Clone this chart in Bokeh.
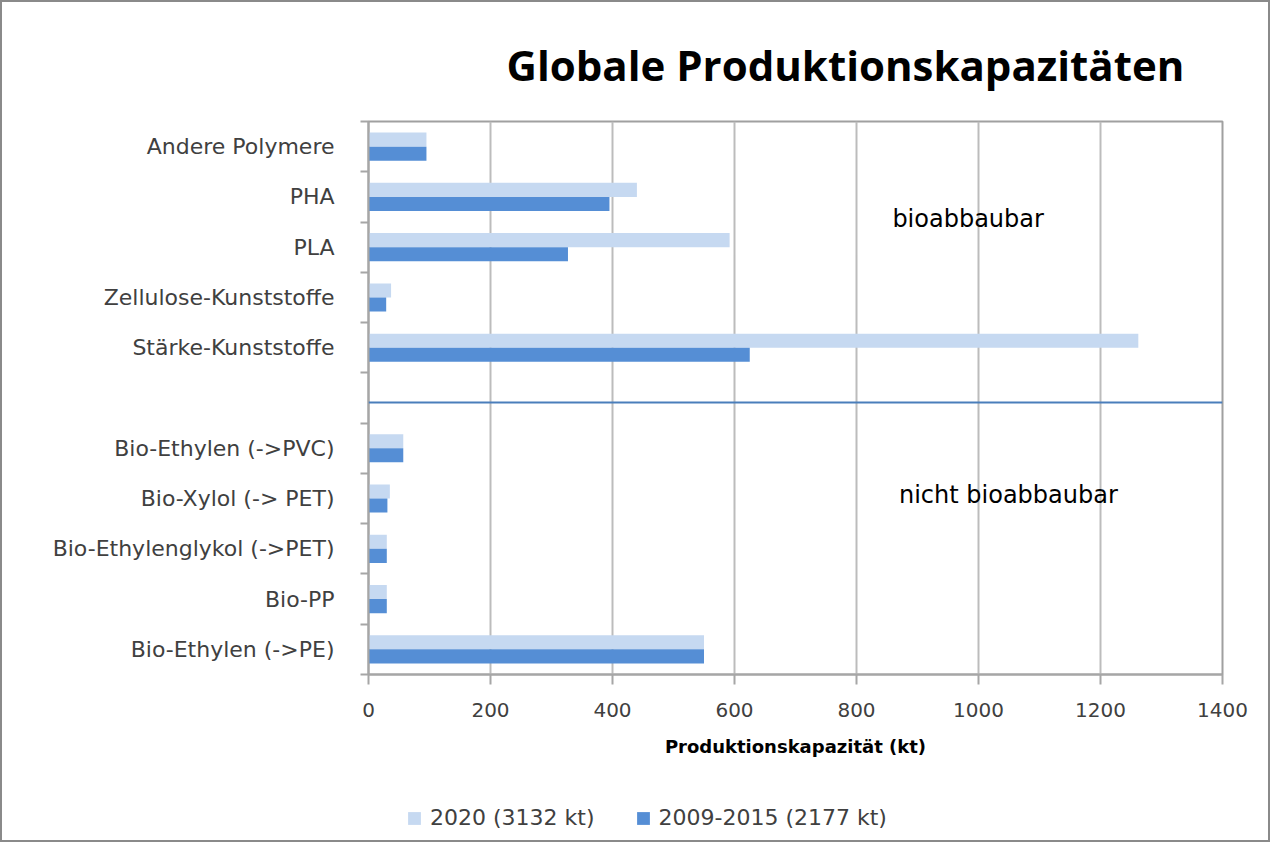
from bokeh.plotting import figure
from bokeh.layouts import column
from bokeh.models import (ColumnDataSource, Range1d, FixedTicker, Span, Label,
                          Legend, LegendItem)
from bokeh.transform import dodge
from bokeh.embed import file_html
from bokeh.resources import INLINE

# ---- data (top to bottom) ----
categories = ["Andere Polymere", "PHA", "PLA", "Zellulose-Kunststoffe",
              "Stärke-Kunststoffe", "", "Bio-Ethylen (->PVC)", "Bio-Xylol (-> PET)",
              "Bio-Ethylenglykol (->PET)", "Bio-PP", "Bio-Ethylen (->PE)"]
values_2020 = [95, 440, 592, 37, 1262, None, 57, 35, 30, 30, 550]
values_2009_2015 = [95, 395, 327, 29, 625, None, 57, 31, 30, 30, 550]
series_labels = ["2020 (3132 kt)", "2009-2015 (2177 kt)"]
x_ticks = [0, 200, 400, 600, 800, 1000, 1200, 1400]
divider_after = "Stärke-Kunststoffe"
group_labels = ["bioabbaubar", "nicht bioabbaubar"]

FONT = "DejaVu Sans"
LIGHT = "#c6d9f1"
DARK = "#558ed5"
TXT = "#404040"

n = len(categories)
pos = {c: n - 0.5 - i for i, c in enumerate(categories)}
rows = [(c, a, b) for c, a, b in zip(categories, values_2020, values_2009_2015) if a is not None]
src = ColumnDataSource(dict(
    y=[pos[c] for c, _, _ in rows],
    v2020=[a for _, a, _ in rows],
    v2009=[b for _, _, b in rows],
))

p = figure(width=1266, height=780, output_backend="svg", toolbar_location=None,
           x_range=Range1d(0, 1400), y_range=Range1d(0, n),
           min_border_left=366, min_border_right=46, min_border_top=119,
           min_border_bottom=108, title="Globale Produktionskapazitäten")

p.title.text_font = "Open Sans"
p.title.text_font_size = "42px"
p.title.text_font_style = "bold"
p.title.text_color = "#000000"
p.title.align = "left"
p.title.offset = 138
p.title.standoff = 58

r1 = p.hbar(y=dodge("y", 0.14, range=p.y_range), right="v2020", height=0.28, left=0,
            source=src, fill_color=LIGHT, line_color=None)
r2 = p.hbar(y=dodge("y", -0.14, range=p.y_range), right="v2009", height=0.28, left=0,
            source=src, fill_color=DARK, line_color=None)

# axes
p.xaxis.ticker = FixedTicker(ticks=x_ticks)
p.xaxis.major_label_text_font = FONT
p.xaxis.major_label_text_font_size = "20px"
p.xaxis.major_label_text_color = TXT
p.xaxis.major_tick_in = 0
p.xaxis.major_tick_out = 10
p.xaxis.minor_tick_line_color = None
p.xaxis.axis_line_color = "#a6a6a6"
p.xaxis.major_tick_line_color = "#a6a6a6"
p.xaxis.major_tick_line_width = 2
p.xaxis.axis_line_width = 2
p.xaxis.major_label_standoff = 18
p.xaxis.axis_label = "Produktionskapazität (kt)"
p.xaxis.axis_label_text_font = FONT
p.xaxis.axis_label_text_font_size = "18px"
p.xaxis.axis_label_text_font_style = "bold"
p.xaxis.axis_label_text_color = "#000000"
p.xaxis.axis_label_standoff = 16

p.yaxis.ticker = FixedTicker(ticks=[pos[c] for c in categories],
                             minor_ticks=list(range(n + 1)))
p.yaxis.major_label_overrides = {pos[c]: c for c in categories}
p.yaxis.major_label_text_font = FONT
p.yaxis.major_label_text_font_size = "22px"
p.yaxis.major_label_text_color = TXT
p.yaxis.major_tick_line_color = None
p.yaxis.minor_tick_in = 0
p.yaxis.minor_tick_out = 8
p.yaxis.minor_tick_line_color = "#a6a6a6"
p.yaxis.minor_tick_line_width = 2
p.yaxis.axis_line_color = "#a6a6a6"
p.yaxis.axis_line_width = 2
p.yaxis.major_label_standoff = 26

p.xgrid.grid_line_color = "#bcbcbc"
p.xgrid.grid_line_width = 2
p.ygrid.grid_line_color = None
p.outline_line_color = "#a0a0a0"
p.outline_line_width = 2
p.background_fill_color = "white"
p.border_fill_color = "white"

# divider between biodegradable and non-biodegradable
p.add_layout(Span(location=pos[divider_after] - 1.09, dimension="width",
                  line_color="#4a7ebb", line_width=2))

p.add_layout(Label(x=983, y=9.07, text=group_labels[0], text_font=FONT,
                   text_font_size="24px", text_color="#000000",
                   text_align="center", text_baseline="middle"))
p.add_layout(Label(x=1049, y=3.58, text=group_labels[1], text_font=FONT,
                   text_font_size="24px", text_color="#000000",
                   text_align="center", text_baseline="middle"))

# ---- legend strip (swatch renderers sit outside the visible range) ----
lf = figure(width=1266, height=58, output_backend="svg", toolbar_location=None,
            x_axis_type=None, y_axis_type=None, min_border=0,
            x_range=Range1d(0, 1), y_range=Range1d(0, 1))
lf.outline_line_color = None
lf.xgrid.grid_line_color = None
lf.ygrid.grid_line_color = None
lr1 = lf.hbar(y=[-5], right=[1], left=0, height=1, fill_color=LIGHT, line_color=None)
lr2 = lf.hbar(y=[-5], right=[1], left=0, height=1, fill_color=DARK, line_color=None)
legend = Legend(items=[LegendItem(label=series_labels[0], renderers=[lr1]),
                       LegendItem(label=series_labels[1], renderers=[lr2])],
                orientation="horizontal", location=(38, 10))
legend.label_text_font = FONT
legend.label_text_font_size = "22px"
legend.label_text_color = TXT
legend.glyph_width = 16
legend.glyph_height = 16
legend.label_standoff = 8
legend.spacing = 40
legend.border_line_color = None
legend.background_fill_alpha = 0
legend.margin = 0
legend.padding = 0
lf.add_layout(legend)

layout = column(p, lf, spacing=0,
                styles={"border": "2px solid #8a8a8a"})

open("out.html", "w").write(file_html(layout, INLINE))
